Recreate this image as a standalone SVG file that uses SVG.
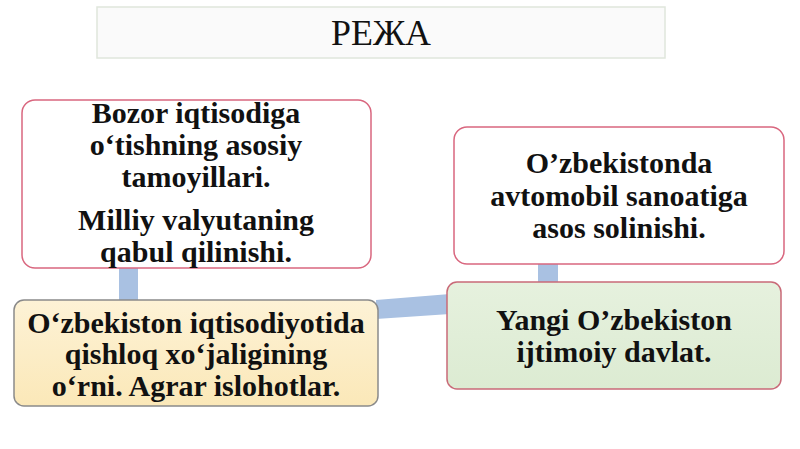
<svg xmlns="http://www.w3.org/2000/svg" width="800" height="449" viewBox="0 0 800 449">
<defs>
<linearGradient id="yel" x1="0" y1="0" x2="0" y2="1">
<stop offset="0" stop-color="#fdf2d6"/>
<stop offset="1" stop-color="#fbe8b8"/>
</linearGradient>
<linearGradient id="grn" x1="0" y1="0" x2="0" y2="1">
<stop offset="0" stop-color="#e6f1de"/>
<stop offset="1" stop-color="#dcebd2"/>
</linearGradient>
</defs>
<style>
.t{font-family:"Liberation Serif","Times New Roman",serif;font-weight:bold;font-size:30px;fill:#111;text-anchor:middle}
.c{fill:#a9c1e2}
</style>
<rect width="800" height="449" fill="#ffffff"/>
<g id="connectors">
<rect class="c" x="119" y="266" width="19" height="36"/>
<polygon class="c" points="376,300 450,294 450,314 376,319"/>
<rect class="c" x="538" y="262" width="20" height="22"/>
</g>
<g id="title">
<rect x="97" y="7" width="568" height="51" fill="#fafafa" stroke="#dfe6dc" stroke-width="1.5"/>
<text x="381" y="45" font-family="Liberation Serif, serif" font-size="36" fill="#111" text-anchor="middle" textLength="100" lengthAdjust="spacingAndGlyphs">РЕЖА</text>
</g>
<g id="node1">
<rect x="22" y="100" width="349" height="168" rx="13" fill="#ffffff" stroke="#d9677f" stroke-width="1.5"/>
<text class="t" x="196" y="123">Bozor iqtisodiga</text>
<text class="t" x="196" y="155">o‘tishning asosiy</text>
<text class="t" x="196" y="187">tamoyillari.</text>
<text class="t" x="196" y="230">Milliy valyutaning</text>
<text class="t" x="196" y="262">qabul qilinishi.</text>
</g>
<g id="node2">
<rect x="14" y="300" width="364" height="106" rx="10" fill="url(#yel)" stroke="#8a8a8a" stroke-width="1.5"/>
<text class="t" x="196" y="333">O‘zbekiston iqtisodiyotida</text>
<text class="t" x="196" y="364">qishloq xo‘jaligining</text>
<text class="t" x="196" y="396">o‘rni. Agrar islohotlar.</text>
</g>
<g id="node3">
<rect x="454" y="127" width="330" height="137" rx="13" fill="#ffffff" stroke="#d9677f" stroke-width="1.5"/>
<text class="t" x="619" y="173">O’zbekistonda</text>
<text class="t" x="619" y="206">avtomobil sanoatiga</text>
<text class="t" x="619" y="238">asos solinishi.</text>
</g>
<g id="node4">
<rect x="447" y="282" width="334" height="107" rx="10" fill="url(#grn)" stroke="#c96a78" stroke-width="1.5"/>
<text class="t" x="614" y="330">Yangi O’zbekiston</text>
<text class="t" x="614" y="362">ijtimoiy davlat.</text>
</g>
</svg>
